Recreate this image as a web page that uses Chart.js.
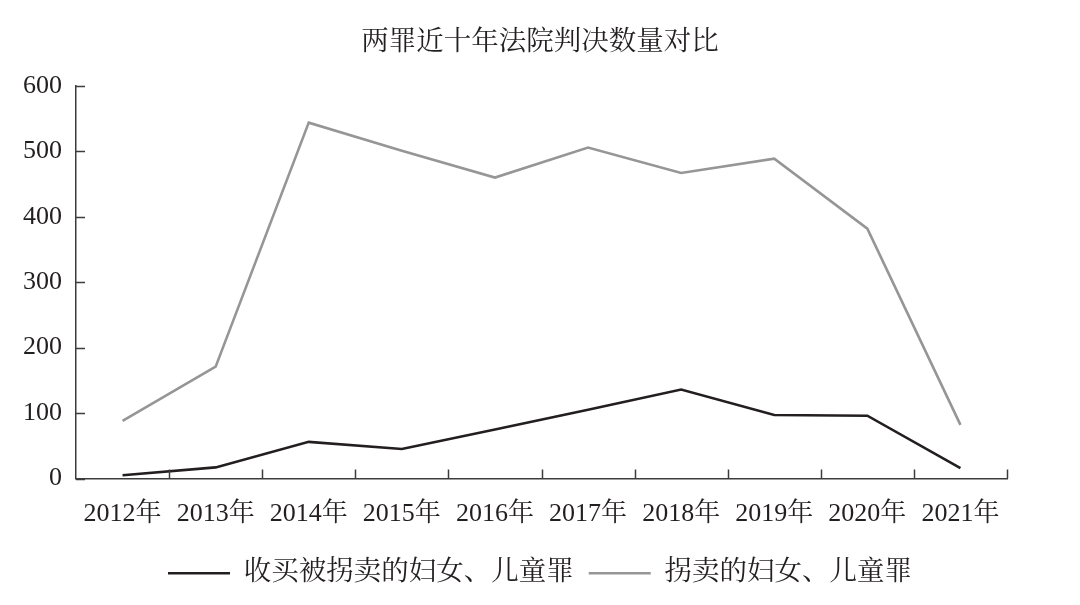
<!DOCTYPE html>
<html>
<head>
<meta charset="utf-8">
<script src="https://cdn.jsdelivr.net/npm/chart.js@4"></script>
<style>
  html, body { margin: 0; padding: 0; background: #fff; }
  #wrap { width: 1080px; height: 605px; }
</style>
</head>
<body>
<div id="wrap"><canvas id="trafficChart"></canvas></div>
<script>
// data
const years = ["2012年", "2013年", "2014年", "2015年", "2016年", "2017年", "2018年", "2019年", "2020年", "2021年"];
const buyingCrime = [5, 17, 56, 45, 75, 105, 136, 97, 96, 16];
const traffickingCrime = [88, 171, 544, 501, 460, 506, 467, 489, 382, 82];
const yTicks = [0, 100, 200, 300, 400, 500, 600];

const axisColor = "#3c3c3c";
const textColor = "#231f20";
const fontFamily = "'Liberation Serif', 'Noto Serif CJK SC', 'Noto Sans CJK SC', serif";

// tick marks drawn inward, like the printed figure
const innerTicks = {
  id: "innerTicks",
  afterDatasetsDraw(chart) {
    const { ctx, scales } = chart;
    const x = scales.x, y = scales.y;
    ctx.save();
    ctx.strokeStyle = axisColor;
    ctx.lineWidth = 1.5;
    ctx.beginPath();
    y.ticks.forEach((t, i) => {
      const py = Math.round(y.getPixelForTick(i)) + 0.5;
      ctx.moveTo(y.right, py);
      ctx.lineTo(y.right + 9, py);
    });
    for (let i = 1; i <= years.length; i++) {
      const px = Math.round(x.getPixelForValue(i - 0.5)) + 0.5;
      ctx.moveTo(px, x.top);
      ctx.lineTo(px, x.top - 9);
    }
    ctx.stroke();
    ctx.restore();
  }
};

new Chart("trafficChart", {
  type: "line",
  data: {
    labels: years,
    datasets: [
      {
        label: "收买被拐卖的妇女、儿童罪",
        data: buyingCrime,
        borderColor: "#231f20",
        backgroundColor: "#231f20",
        borderWidth: 2.6,
        pointRadius: 0,
        tension: 0,
        fill: false,
      },
      {
        label: "拐卖的妇女、儿童罪",
        data: traffickingCrime,
        borderColor: "#969696",
        backgroundColor: "#969696",
        borderWidth: 2.6,
        pointRadius: 0,
        tension: 0,
        fill: false,
      },
    ],
  },
  options: {
    responsive: true,
    maintainAspectRatio: false,
    animation: false,
    layout: { padding: { left: 0, right: 0, top: 0, bottom: 8 } },
    plugins: {
      title: {
        display: true,
        text: "两罪近十年法院判决数量对比",
        color: textColor,
        font: { family: fontFamily, size: 27.5, weight: "normal" },
        padding: { top: 26, bottom: 27 },
      },
      legend: {
        position: "bottom",
        labels: {
          color: textColor,
          font: { family: fontFamily, size: 27.5 },
          usePointStyle: true,
          pointStyle: "line",
          pointStyleWidth: 62,
          padding: 15,
        },
      },
      tooltip: { enabled: false },
    },
    scales: {
      x: {
        offset: true,
        grid: { display: false, offset: true, drawTicks: false },
        border: { display: true, color: axisColor, width: 1.5 },
        ticks: {
          color: textColor,
          font: { family: fontFamily, size: 26 },
          padding: 20,
          maxRotation: 0,
          autoSkip: false,
        },
        afterFit(scale) { scale.height = 66; },
      },
      y: {
        min: 0,
        max: 600,
        afterBuildTicks(scale) { scale.ticks = yTicks.map(v => ({ value: v })); },
        grid: { display: false, drawTicks: false },
        border: { display: true, color: axisColor, width: 1.5 },
        ticks: {
          color: textColor,
          font: { family: fontFamily, size: 26 },
          padding: 14,
        },
        afterFit(scale) { scale.width = 76; },
      },
      // empty right-hand axis that only reserves the right margin
      yRight: {
        position: "right",
        display: true,
        grid: { display: false, drawTicks: false },
        border: { display: false },
        ticks: { display: false },
        afterFit(scale) { scale.width = 73; },
      },
    },
  },
  plugins: [innerTicks],
});
</script>
</body>
</html>
